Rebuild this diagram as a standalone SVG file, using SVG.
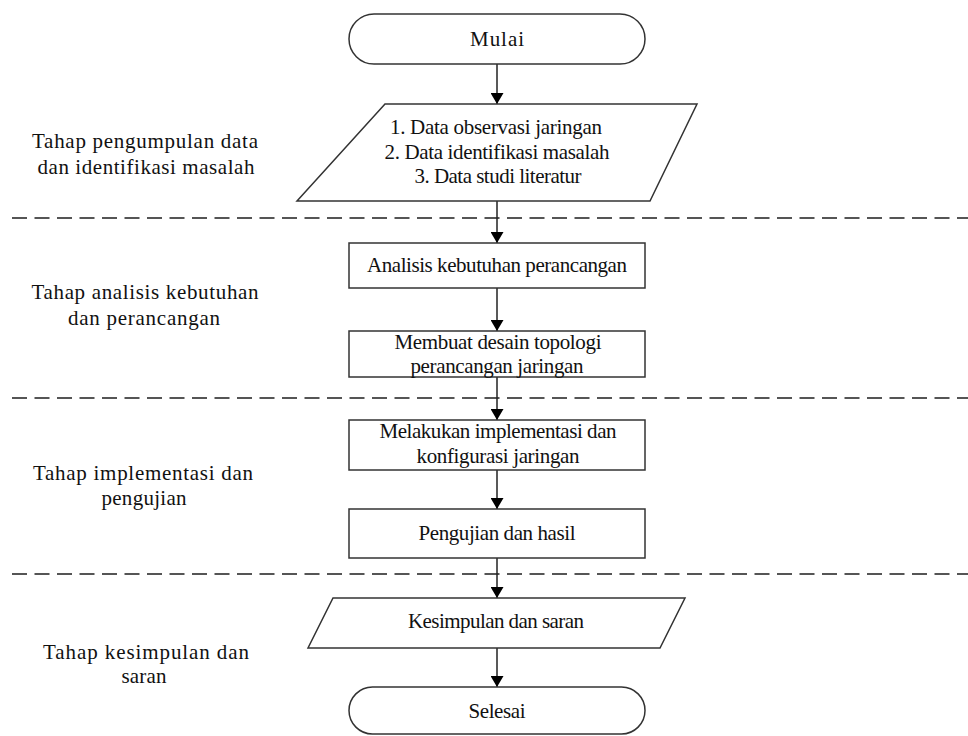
<svg xmlns="http://www.w3.org/2000/svg" width="968" height="736" viewBox="0 0 968 736">
<style>
.shape{fill:#fff;stroke:#333;stroke-width:1.5}
.t{font-family:"Liberation Serif","Times New Roman",serif;font-size:21px;fill:#111;text-anchor:middle}
.sep{stroke:#555;stroke-width:2;stroke-dasharray:15 7.5;fill:none}
.conn{stroke:#222;stroke-width:1.5;fill:none;marker-end:url(#ah)}
</style>
<defs>
<marker id="ah" viewBox="0 0 11 13" refX="11" refY="6.5" markerWidth="11" markerHeight="13" markerUnits="userSpaceOnUse" orient="auto">
<path d="M0,0 L11,6.5 L0,13 Z" fill="#000"/>
</marker>
</defs>
<rect width="968" height="736" fill="#fff"/>
<g id="separators">
<line class="sep" x1="12" y1="218" x2="968" y2="218"/>
<line class="sep" x1="12" y1="398" x2="968" y2="398"/>
<line class="sep" x1="12" y1="574" x2="968" y2="574"/>
</g>
<g id="labels">
<text class="t" x="145" y="148" textLength="226" lengthAdjust="spacing">Tahap pengumpulan data</text>
<text class="t" x="146" y="174" textLength="217" lengthAdjust="spacing">dan identifikasi masalah</text>
<text class="t" x="145" y="299" textLength="227" lengthAdjust="spacing">Tahap analisis kebutuhan</text>
<text class="t" x="144" y="325" textLength="152" lengthAdjust="spacing">dan perancangan</text>
<text class="t" x="143" y="480" textLength="220" lengthAdjust="spacing">Tahap implementasi dan</text>
<text class="t" x="144" y="505" textLength="85" lengthAdjust="spacing">pengujian</text>
<text class="t" x="146" y="659" textLength="206" lengthAdjust="spacing">Tahap kesimpulan dan</text>
<text class="t" x="144" y="683" textLength="45" lengthAdjust="spacing">saran</text>
</g>
<g id="connectors">
<line class="conn" x1="497" y1="64" x2="497" y2="104"/>
<line class="conn" x1="497" y1="201" x2="497" y2="243"/>
<line class="conn" x1="497" y1="288" x2="497" y2="331"/>
<line class="conn" x1="497" y1="377" x2="497" y2="420"/>
<line class="conn" x1="497" y1="470" x2="497" y2="509"/>
<line class="conn" x1="497" y1="558" x2="497" y2="598"/>
<line class="conn" x1="497" y1="648" x2="497" y2="687"/>
</g>
<g id="start">
<rect class="shape" x="349" y="14" width="296" height="50" rx="25"/>
<text class="t" x="497" y="46" textLength="54" lengthAdjust="spacing">Mulai</text>
</g>
<g id="data">
<polygon class="shape" points="385,104 697,104 650,201 297,201"/>
<text class="t" x="496" y="134" textLength="212" lengthAdjust="spacing">1. Data observasi jaringan</text>
<text class="t" x="497" y="158.5" textLength="225" lengthAdjust="spacing">2. Data identifikasi masalah</text>
<text class="t" x="498" y="183" textLength="167" lengthAdjust="spacing">3. Data studi literatur</text>
</g>
<g id="analisis">
<rect class="shape" x="349" y="243" width="296" height="45"/>
<text class="t" x="497" y="272" textLength="260" lengthAdjust="spacing">Analisis kebutuhan perancangan</text>
</g>
<g id="desain">
<rect class="shape" x="349" y="331" width="296" height="46"/>
<text class="t" x="498" y="349" textLength="207" lengthAdjust="spacing">Membuat desain topologi</text>
<text class="t" x="497" y="373" textLength="173" lengthAdjust="spacing">perancangan jaringan</text>
</g>
<g id="implementasi">
<rect class="shape" x="349" y="420" width="296" height="50"/>
<text class="t" x="498" y="438" textLength="237" lengthAdjust="spacing">Melakukan implementasi dan</text>
<text class="t" x="498" y="463" textLength="163" lengthAdjust="spacing">konfigurasi jaringan</text>
</g>
<g id="pengujian">
<rect class="shape" x="349" y="509" width="296" height="49"/>
<text class="t" x="497" y="540" textLength="157" lengthAdjust="spacing">Pengujian dan hasil</text>
</g>
<g id="kesimpulan">
<polygon class="shape" points="333,598 685,598 660,648 308,648"/>
<text class="t" x="496" y="628" textLength="176" lengthAdjust="spacing">Kesimpulan dan saran</text>
</g>
<g id="end">
<rect class="shape" x="349" y="687" width="296" height="47" rx="23.5"/>
<text class="t" x="497" y="718" textLength="57" lengthAdjust="spacing">Selesai</text>
</g>
</svg>
